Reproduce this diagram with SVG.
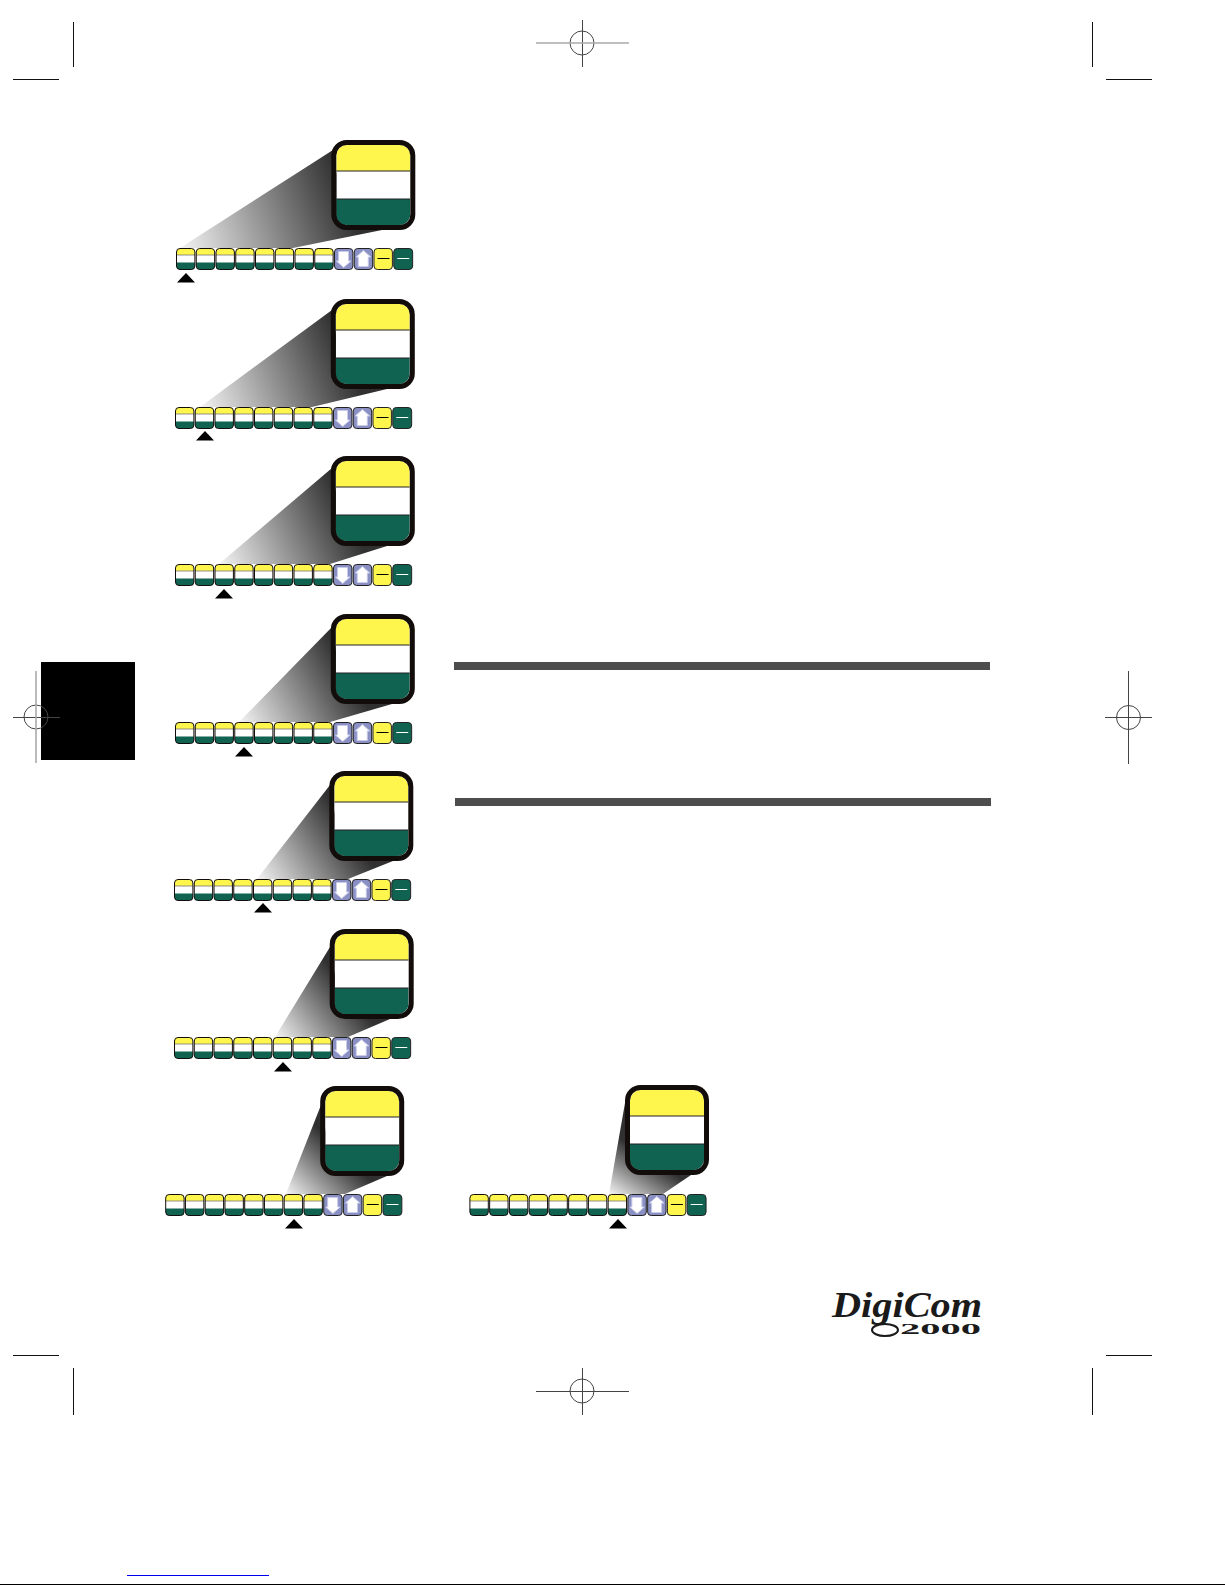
<svg xmlns="http://www.w3.org/2000/svg" width="1225" height="1585" viewBox="0 0 1225 1585">
<style>
.y{fill:#fff64d}.w{fill:#fff}.g{fill:#0f6350}.k{stroke:#120d0a;fill:none}
.mark{stroke:#111;stroke-width:1;fill:none}.reg{stroke:#444;stroke-width:1;fill:none}
.lt{stroke:#aaa;stroke-width:1.6;fill:none}
.bar{fill:#4d4d4d}
.logo{font-family:"Liberation Serif",serif;fill:#1a1a1a}
</style>
<defs>
<linearGradient id="g1" gradientUnits="userSpaceOnUse" x1="180" y1="248" x2="345" y2="190"><stop offset="0" stop-color="#f4f4f4"/><stop offset="1" stop-color="#303030"/></linearGradient>
<linearGradient id="g2" gradientUnits="userSpaceOnUse" x1="200" y1="407" x2="345" y2="350"><stop offset="0" stop-color="#f4f4f4"/><stop offset="1" stop-color="#303030"/></linearGradient>
<linearGradient id="g3" gradientUnits="userSpaceOnUse" x1="219" y1="564" x2="345" y2="507"><stop offset="0" stop-color="#f4f4f4"/><stop offset="1" stop-color="#303030"/></linearGradient>
<linearGradient id="g4" gradientUnits="userSpaceOnUse" x1="239" y1="722" x2="345" y2="665"><stop offset="0" stop-color="#f4f4f4"/><stop offset="1" stop-color="#303030"/></linearGradient>
<linearGradient id="g5" gradientUnits="userSpaceOnUse" x1="257" y1="879" x2="344" y2="822"><stop offset="0" stop-color="#f4f4f4"/><stop offset="1" stop-color="#303030"/></linearGradient>
<linearGradient id="g6" gradientUnits="userSpaceOnUse" x1="275" y1="1037" x2="344" y2="985"><stop offset="0" stop-color="#f4f4f4"/><stop offset="1" stop-color="#303030"/></linearGradient>
<linearGradient id="g7" gradientUnits="userSpaceOnUse" x1="286" y1="1194" x2="335" y2="1145"><stop offset="0" stop-color="#f4f4f4"/><stop offset="1" stop-color="#303030"/></linearGradient>
<linearGradient id="g8" gradientUnits="userSpaceOnUse" x1="609" y1="1194" x2="638" y2="1150"><stop offset="0" stop-color="#f4f4f4"/><stop offset="1" stop-color="#303030"/></linearGradient>
<clipPath id="bigclip"><rect x="5" y="5" width="74" height="80" rx="11"/></clipPath>
<g id="big">
<g clip-path="url(#bigclip)">
<rect class="y" x="5" y="5" width="74" height="26"/>
<rect class="w" x="5" y="31" width="74" height="28"/>
<rect class="g" x="5" y="59" width="74" height="26"/>
<path d="M5 31H79M5 59H79" stroke="#222" stroke-width="1.2"/>
</g>
<rect class="k" x="2.5" y="2.5" width="79" height="85" rx="13" stroke-width="5"/>
</g>
<clipPath id="btnclip"><rect x="0.5" y="0.5" width="18.4" height="21" rx="3.5"/></clipPath>
<g id="btn">
<g clip-path="url(#btnclip)">
<rect class="y" width="20" height="7"/><rect class="w" y="7" width="20" height="7.5"/><rect class="g" y="14.5" width="20" height="8"/>
<path d="M0 7H20" stroke="#777" stroke-width="0.8"/>
</g>
<rect class="k" x="0.5" y="0.5" width="18.4" height="21" rx="3.5" stroke-width="1"/>
</g>
<g id="strip">
<use href="#btn" x="0"/><use href="#btn" x="19.75"/><use href="#btn" x="39.5"/><use href="#btn" x="59.25"/><use href="#btn" x="79"/><use href="#btn" x="98.75"/><use href="#btn" x="118.5"/><use href="#btn" x="138.25"/>
<g transform="translate(158)">
<rect x="0.5" y="0.5" width="18.4" height="21" rx="3.5" fill="#8a90c4" stroke="#222" stroke-width="1"/>
<path d="M4.5 3.5H14.5V13H17L9.7 19.5L2.4 13H4.5Z" fill="#fff" stroke="#c9cbe8" stroke-width="1"/>
</g>
<g transform="translate(177.75)">
<rect x="0.5" y="0.5" width="18.4" height="21" rx="3.5" fill="#8a90c4" stroke="#222" stroke-width="1"/>
<path d="M4.5 18.5H14.5V9H17L9.7 2.5L2.4 9H4.5Z" fill="#fff" stroke="#c9cbe8" stroke-width="1"/>
</g>
<g transform="translate(197.5)">
<rect class="y" x="0.5" y="0.5" width="18.4" height="21" rx="3.5" stroke="#222" stroke-width="1"/>
<rect x="4" y="10" width="12" height="1" fill="#000"/>
</g>
<g transform="translate(217.25)">
<rect class="g" x="0.5" y="0.5" width="18.9" height="21" rx="3.5" stroke="#222" stroke-width="1"/>
<rect x="4" y="10" width="12" height="1" fill="#fff"/>
</g>
</g>
<path id="tri" d="M-9 9.5L0 0L9 9.5Z" fill="#000"/>
</defs>

<g id="printer-marks">
<rect x="41" y="662" width="94" height="98" fill="#000"/>
<path class="mark" d="M73.5 22V67M13 79.5H59M1092.5 22V67M1106 79.5H1152M73.5 1368V1415M13 1355.5H59M1092.5 1368V1415M1106 1355.5H1152"/>
<circle class="reg" cx="582" cy="43" r="12"/><path class="reg" d="M582.5 20V67"/><path class="lt" d="M536 43H629"/>
<circle class="reg" cx="582" cy="1391" r="12"/><path class="reg" d="M582.5 1368V1415M536 1391.5H629"/>
<circle class="reg" cx="36" cy="717" r="12"/><path class="reg" d="M13 717.5H60"/><path class="lt" d="M36 671V763"/>
<circle class="reg" cx="1128.5" cy="717.5" r="12"/><path class="reg" d="M1105 717.5H1152M1128.5 671V764"/>
<rect class="bar" x="454" y="662" width="536" height="8"/>
<rect class="bar" x="455" y="798" width="536" height="8"/>
<rect x="127" y="1575" width="142" height="1" fill="#0000ee"/>
<rect x="0" y="1584" width="1225" height="1" fill="#000"/>
</g>

<g id="connectors">
<polygon points="180,248 333,150 345,225 387,229 293,248" fill="url(#g1)"/>
<polygon points="200,407 332,310 344,385 387,389 312,407" fill="url(#g2)"/>
<polygon points="219,564 332,468 344,542 387,546 330,564" fill="url(#g3)"/>
<polygon points="239,722 332,627 344,700 392,704 330,722" fill="url(#g4)"/>
<polygon points="257,879 330,785 342,857 393,861 348,879" fill="url(#g5)"/>
<polygon points="275,1037 330,947 342,1015 390,1019 348,1037" fill="url(#g6)"/>
<polygon points="286,1194 321,1105 333,1172 387,1176 345,1194" fill="url(#g7)"/>
<polygon points="609,1194 625,1103 638,1171 691,1175 663,1194" fill="url(#g8)"/>
</g>

<g id="panel-1"><use href="#big" x="331.3" y="140"/><use href="#strip" x="176" y="248"/><use href="#tri" x="186" y="273"/></g>
<g id="panel-2"><use href="#big" x="330.8" y="299"/><use href="#strip" x="175" y="407"/><use href="#tri" x="205" y="431"/></g>
<g id="panel-3"><use href="#big" x="330.8" y="456"/><use href="#strip" x="175" y="564"/><use href="#tri" x="224" y="589"/></g>
<g id="panel-4"><use href="#big" x="330.8" y="614"/><use href="#strip" x="175" y="722"/><use href="#tri" x="244" y="747"/></g>
<g id="panel-5"><use href="#big" x="329.3" y="771"/><use href="#strip" x="174" y="879"/><use href="#tri" x="263" y="903"/></g>
<g id="panel-6"><use href="#big" x="329.7" y="929"/><use href="#strip" x="174" y="1037"/><use href="#tri" x="283" y="1062"/></g>
<g id="panel-7"><use href="#big" x="320.2" y="1086"/><use href="#strip" x="165.2" y="1194"/><use href="#tri" x="294" y="1219"/></g>
<g id="panel-8"><use href="#big" x="625" y="1085"/><use href="#strip" x="469.4" y="1194"/><use href="#tri" x="618" y="1219"/></g>

<g id="logo">
<text class="logo" x="832" y="1317" font-size="36" font-style="italic" font-weight="bold" textLength="150" lengthAdjust="spacingAndGlyphs">DigiCom</text>
<text class="logo" x="900" y="1334" font-size="15" font-weight="bold" textLength="81" lengthAdjust="spacingAndGlyphs">2000</text>
<ellipse cx="885" cy="1330" rx="13" ry="6" fill="none" stroke="#1a1a1a" stroke-width="2"/>
</g>
</svg>
